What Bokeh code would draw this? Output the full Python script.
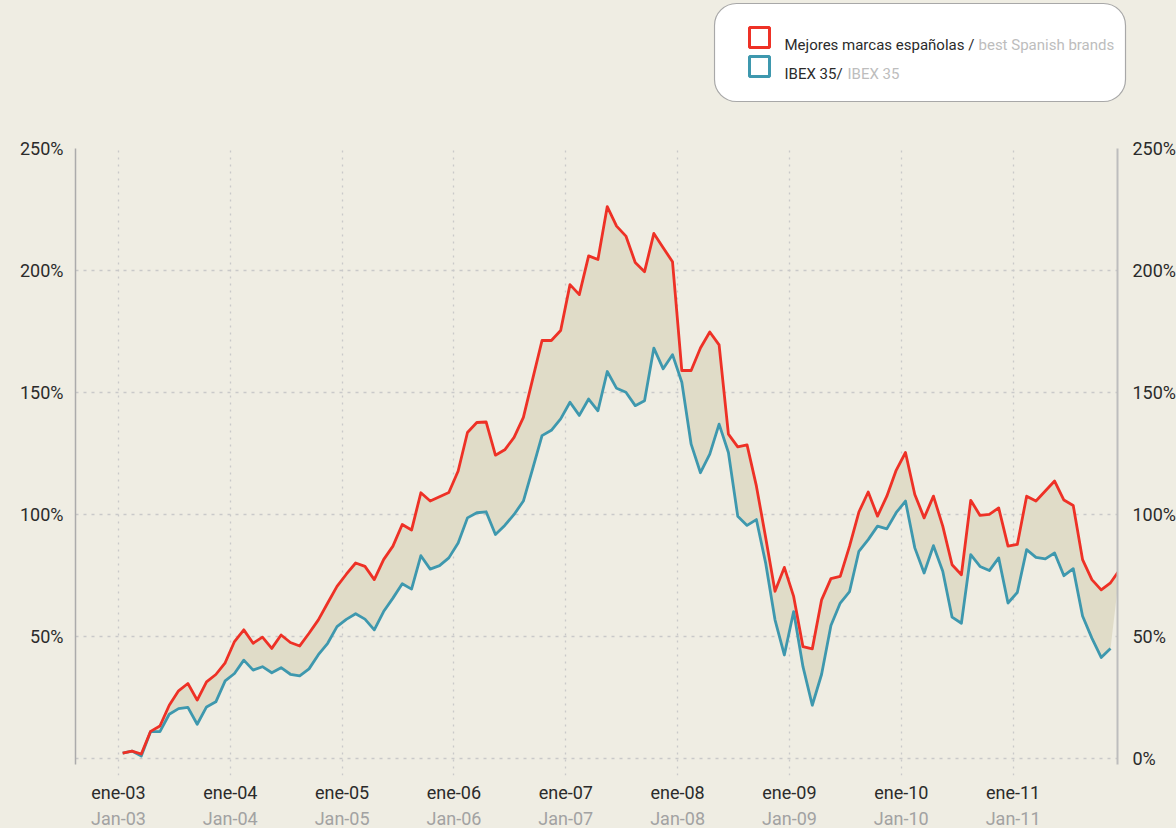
from bokeh.plotting import figure
from bokeh.models import Range1d, LinearAxis, FixedTicker, BoxAnnotation, Label, Spacer
from bokeh.layouts import column, row
from bokeh.embed import file_html
from bokeh.resources import INLINE

# ---------------- data ----------------
years = ["03", "04", "05", "06", "07", "08", "09", "10", "11"]
tick_es = ["ene-" + y for y in years]
tick_en = ["Jan-" + y for y in years]
tick_months = [0, 12, 24, 36, 48, 60, 72, 84, 96]          # months since Jan 2003
y_ticks = [0, 50, 100, 150, 200, 250]

# monthly cumulative return (%), Jan 2003 .. Dec 2011
brands = [2.2, 3.0, 1.8, 11.1, 13.3, 21.8, 27.7, 30.7, 23.9, 31.4, 34.4, 39.2,
          47.9, 52.7, 47.2, 49.7, 45.1, 50.6, 47.5, 46.1, 51.3, 56.8, 63.7, 70.5,
          75.5, 80.1, 78.7, 73.3, 81.5, 87.0, 95.9, 93.6, 108.9, 105.5, 107.3, 109.0,
          117.8, 133.6, 137.7, 137.9, 124.3, 126.5, 131.6, 139.8, 155.6, 171.3, 171.3, 175.4,
          194.2, 190.1, 206.0, 204.5, 226.2, 218.2, 214.1, 203.3, 199.5, 215.2, 209.3, 203.6,
          159.0, 159.0, 168.2, 174.8, 169.5, 132.9, 127.7, 128.5, 111.7, 90.5, 68.5, 78.3,
          66.4, 45.8, 44.9, 65.0, 73.7, 74.6, 87.0, 101.0, 109.2, 99.3, 107.5, 118.1,
          125.4, 108.2, 98.6, 107.5, 95.2, 79.4, 75.3, 105.8, 99.6, 100.0, 102.7, 87.0,
          87.7, 107.5, 105.5, 109.6, 113.7, 105.9, 103.7, 81.5, 73.3, 69.1, 72.0, 77.4]

ibex = [2.2, 3.0, 1.0, 11.0, 11.0, 18.1, 20.4, 20.9, 14.0, 21.1, 23.2, 31.8,
        34.8, 40.3, 36.2, 37.6, 35.1, 37.2, 34.5, 33.8, 36.7, 42.5, 47.2, 54.0,
        57.0, 59.3, 57.1, 52.7, 60.2, 65.7, 71.6, 69.4, 83.1, 77.6, 79.0, 82.2,
        88.3, 98.6, 100.7, 101.1, 91.8, 95.5, 100.0, 105.5, 118.8, 132.3, 134.5, 139.2,
        146.0, 140.6, 147.3, 142.5, 158.6, 151.7, 150.1, 144.6, 146.6, 168.2, 159.7, 165.5,
        154.2, 128.8, 117.1, 124.7, 137.0, 125.4, 99.3, 95.5, 97.9, 80.0, 56.8, 42.4,
        60.2, 37.6, 21.8, 34.5, 54.5, 63.7, 68.4, 84.9, 89.7, 95.2, 94.1, 100.7,
        105.5, 86.3, 76.0, 87.2, 76.7, 57.9, 55.4, 83.5, 78.7, 77.0, 82.2, 63.7,
        68.0, 85.6, 82.4, 81.8, 84.2, 74.9, 77.8, 58.4, 49.3, 41.4, 45.1]

month_idx_brands = list(range(len(brands)))
month_idx_ibex = list(range(len(ibex)))
MID = 0.45  # observations plotted mid-month

label_brands_es = "Mejores marcas españolas / "
label_brands_en = "best Spanish brands"
label_ibex_es = "IBEX 35/ "
label_ibex_en = "IBEX 35"

# ---------------- style ----------------
BG = "#EFEDE3"
FILL = "#E0DCC8"
RED = "#EE3126"
BLUE = "#3E98AE"
DARK = "#2B2B2B"
GREY = "#A2A2A2"
LGREY = "#BDBDBD"
FONT = "Roboto"

xb = [m + MID for m in month_idx_brands]
xi = [m + MID for m in month_idx_ibex]

LEG_H = 104
p = figure(frame_width=1042, frame_height=627,
           x_range=Range1d(-4.61, 107.2), y_range=Range1d(-7.0, 250),
           output_backend="svg", toolbar_location=None,
           min_border_left=75, min_border_top=148 - LEG_H, min_border_right=59, min_border_bottom=53,
           background_fill_color=BG, border_fill_color=BG, outline_line_color=None)

# grids
p.xgrid.ticker = FixedTicker(ticks=tick_months)
p.ygrid.ticker = FixedTicker(ticks=y_ticks)
p.xgrid.grid_line_color = "#C9C9C9"
p.xgrid.grid_line_dash = "2 5"
p.xgrid.grid_line_width = 1.3
p.ygrid.grid_line_color = "#C9C9C9"
p.ygrid.grid_line_dash = "3 5"
p.ygrid.grid_line_width = 1.3

# band between series
p.patch(xb + xi[::-1], brands + ibex[::-1], fill_color=FILL, line_color=None)
p.line(xi, ibex, line_color=BLUE, line_width=2.8, line_join="round")
p.line(xb, brands, line_color=RED, line_width=2.8, line_join="round")

# y axes
def style_y(ax, overrides, standoff):
    ax.ticker = FixedTicker(ticks=y_ticks)
    ax.major_label_overrides = overrides
    ax.bounds = (-2.5, 250)
    ax.axis_line_color = "#ABABAB"
    ax.axis_line_width = 1.5
    ax.major_tick_line_color = None
    ax.minor_tick_line_color = None
    ax.major_tick_out = 0
    ax.major_tick_in = 0
    ax.minor_tick_out = 0
    ax.major_label_standoff = standoff
    ax.major_label_text_font = FONT
    ax.major_label_text_font_size = "18px"
    ax.major_label_text_color = DARK

left_over = {v: f"{v}%" for v in y_ticks}
left_over[0] = ""
style_y(p.yaxis[0], left_over, 12)
yr = LinearAxis()
style_y(yr, {v: f"{v}%" for v in y_ticks}, 15)
yr.axis_line_color = "#BDBDBD"
yr.axis_line_width = 2
p.add_layout(yr, "right")

# x axes (two label rows)
def style_x(ax, labels, color, standoff):
    ax.ticker = FixedTicker(ticks=tick_months)
    ax.major_label_overrides = {m: t for m, t in zip(tick_months, labels)}
    ax.axis_line_color = None
    ax.major_tick_line_color = None
    ax.minor_tick_line_color = None
    ax.major_tick_out = 0
    ax.major_tick_in = 0
    ax.minor_tick_out = 0
    ax.major_label_standoff = standoff
    ax.major_label_text_font = FONT
    ax.major_label_text_font_size = "18px"
    ax.major_label_text_color = color

style_x(p.xaxis[0], tick_es, DARK, 6)
x2 = LinearAxis()
style_x(x2, tick_en, GREY, 2)
p.add_layout(x2, "below")

# ---------------- legend (own small figure, page-pixel coordinates) ----------------
L0, L1 = 713, 1127
lf = figure(width=L1 - L0, height=LEG_H, x_range=Range1d(L0, L1), y_range=Range1d(0, LEG_H),
            output_backend="svg", toolbar_location=None, min_border=0,
            x_axis_location=None, y_axis_location=None,
            background_fill_color=BG, border_fill_color=BG, outline_line_color=None)
lf.grid.visible = False

def Y(page_y):
    return LEG_H - page_y

lf.add_layout(BoxAnnotation(left=714, right=1125, top=Y(3), bottom=Y(101),
                            fill_color="white", fill_alpha=1, line_color="#A8A8A8",
                            line_alpha=1, line_width=1.2, border_radius=22))
for (top, col) in [(27, RED), (56, BLUE)]:
    lf.add_layout(BoxAnnotation(left=749, right=769, top=Y(top), bottom=Y(top + 20),
                                fill_color="white", fill_alpha=1, line_color=col,
                                line_alpha=1, line_width=3))

for (txt, X, PY, col) in [(label_brands_es, 784, 44, DARK), (label_brands_en, 978, 44, LGREY),
                          (label_ibex_es, 784, 73, DARK), (label_ibex_en, 847, 73, LGREY)]:
    lf.add_layout(Label(x=X, y=Y(PY), text=txt, text_font=FONT, text_font_size="15px",
                        text_color=col, text_baseline="alphabetic", text_align="left"))

layout = column(row(Spacer(width=L0, height=LEG_H), lf), p)

html = file_html(layout, INLINE)
html = html.replace("</head>",
                    "<style>html,body{background:#EFEDE3;margin:0;padding:0;overflow:hidden;}</style></head>", 1)
open("out.html", "w").write(html)
